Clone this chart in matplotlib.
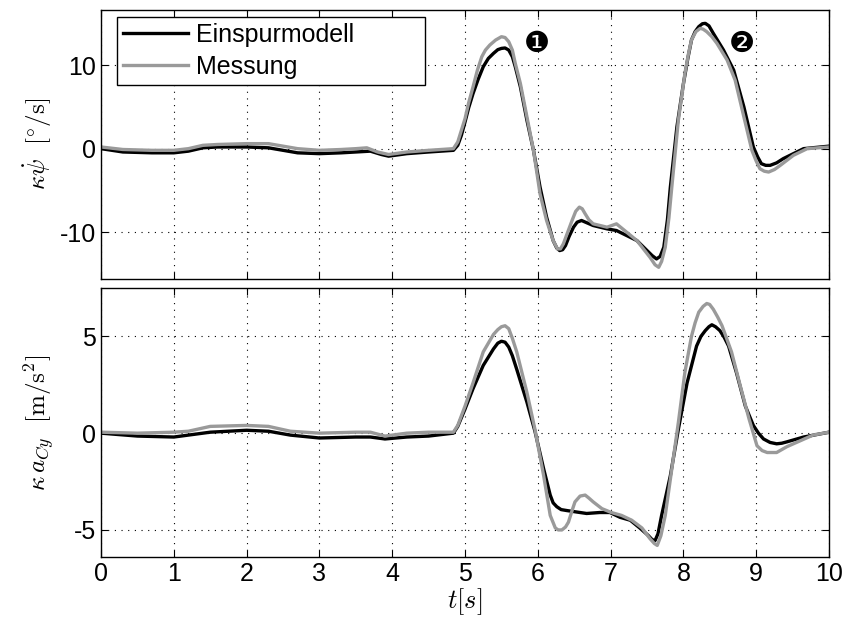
import numpy as np
import matplotlib
matplotlib.use("Agg")
import matplotlib.pyplot as plt

plt.rcParams["font.family"] = ["Liberation Sans", "DejaVu Sans"]
plt.rcParams["mathtext.fontset"] = "cm"
plt.rcParams["axes.unicode_minus"] = False

# yaw rate, single track model (Einspurmodell)
t_psi_model = [0, 0.3, 0.7, 1.0, 1.2, 1.4, 1.6, 2.0, 2.3, 2.5, 2.7, 3.0, 3.3, 3.5, 3.7,
               3.85, 3.95, 4.2, 4.5, 4.84, 4.9, 4.95, 5.0, 5.05, 5.11, 5.18, 5.25, 5.32,
               5.39, 5.45, 5.5, 5.55, 5.6, 5.65, 5.69, 5.76, 5.85, 5.94, 6.03, 6.12,
               6.21, 6.26, 6.3, 6.34, 6.38, 6.43, 6.49, 6.54, 6.6, 6.68, 6.76, 6.95,
               7.08, 7.22, 7.36, 7.5, 7.57, 7.63, 7.68, 7.73, 7.78, 7.82, 7.91, 8.0,
               8.06, 8.11, 8.16, 8.21, 8.26, 8.3, 8.35, 8.41, 8.48, 8.55, 8.69, 8.83,
               8.96, 9.02, 9.07, 9.13, 9.19, 9.28, 9.37, 9.65, 10.0]
psi_model = [0, -0.4, -0.5, -0.5, -0.3, 0.1, 0.2, 0.2, 0.1, -0.2, -0.5, -0.6, -0.5, -0.4,
             -0.3, -0.7, -0.9, -0.6, -0.4, -0.2, 0.4, 1.6, 3.2, 4.9, 6.6, 8.3, 9.8, 10.8,
             11.4, 11.85, 12.0, 12.05, 11.8, 11.0, 9.8, 7.4, 3.4, -0.2, -4.6, -8.2,
             -11.0, -11.9, -12.2, -12.1, -11.6, -10.5, -9.4, -8.8, -8.6, -8.9, -9.2,
             -9.6, -9.8, -10.4, -11.0, -12.2, -12.8, -13.2, -12.9, -11.8, -8.5, -4.6,
             2.6, 7.8, 10.8, 13.0, 14.0, 14.6, 14.95, 15.0, 14.7, 13.8, 12.8, 11.8,
             9.4, 5.0, 0.2, -1.0, -1.8, -2.0, -2.0, -1.7, -1.2, 0.0, 0.3]

# yaw rate, measurement (Messung)
t_psi_meas = [0, 0.3, 0.7, 1.0, 1.2, 1.4, 1.6, 2.0, 2.3, 2.5, 2.7, 3.0, 3.3, 3.5, 3.65,
              3.8, 3.95, 4.2, 4.5, 4.84, 4.9, 4.95, 5.0, 5.05, 5.11, 5.17, 5.23, 5.28,
              5.34, 5.42, 5.5, 5.55, 5.6, 5.65, 5.69, 5.76, 5.85, 5.94, 6.03, 6.12,
              6.21, 6.27, 6.31, 6.35, 6.41, 6.47, 6.52, 6.57, 6.61, 6.65, 6.7, 6.76,
              6.95, 7.08, 7.22, 7.36, 7.54, 7.61, 7.66, 7.7, 7.75, 7.8, 7.84, 7.93,
              8.02, 8.07, 8.11, 8.17, 8.23, 8.27, 8.32, 8.39, 8.46, 8.6, 8.71, 8.83,
              8.94, 9.0, 9.05, 9.11, 9.17, 9.25, 9.33, 9.51, 9.7, 10.0]
psi_meas = [0.2, -0.1, -0.2, -0.2, 0.0, 0.4, 0.5, 0.6, 0.6, 0.3, 0.0, -0.2, -0.1, 0.0,
            0.1, -0.4, -0.7, -0.4, -0.2, 0.0, 0.8, 2.2, 3.6, 5.5, 7.4, 9.4, 11.0, 11.8,
            12.4, 13.0, 13.4, 13.3, 12.8, 11.8, 10.2, 7.8, 3.8, -0.2, -5.4, -8.6,
            -11.0, -12.0, -12.0, -11.4, -10.0, -8.6, -7.5, -7.0, -7.2, -7.8, -8.5,
            -9.0, -9.4, -9.0, -10.0, -11.0, -13.0, -13.9, -14.2, -13.5, -11.8, -8.3,
            -4.6, 3.4, 9.0, 11.4, 13.0, 14.0, 14.4, 14.3, 14.0, 13.4, 12.6, 10.6,
            8.2, 3.8, -0.2, -1.5, -2.4, -2.7, -2.8, -2.5, -2.0, -0.8, 0.0, 0.2]

# lateral acceleration, single track model
t_ay_model = [0, 0.5, 1.0, 1.2, 1.5, 2.0, 2.3, 2.6, 3.0, 3.5, 3.7, 3.9, 4.2, 4.5, 4.84,
              4.9, 4.95, 5.0, 5.11, 5.25, 5.39, 5.45, 5.5, 5.55, 5.6, 5.65, 5.71, 5.85,
              5.96, 6.08, 6.17, 6.21, 6.26, 6.32, 6.4, 6.58, 6.67, 6.85, 6.99, 7.13,
              7.27, 7.4, 7.52, 7.57, 7.61, 7.65, 7.7, 7.82, 7.93, 8.05, 8.18, 8.24,
              8.3, 8.35, 8.39, 8.44, 8.5, 8.56, 8.62, 8.73, 8.85, 8.96, 9.03, 9.1,
              9.19, 9.28, 9.35, 9.42, 9.65, 10.0]
ay_model = [0, -0.15, -0.2, -0.1, 0.05, 0.15, 0.1, -0.1, -0.25, -0.2, -0.2, -0.3, -0.2,
            -0.15, 0.0, 0.35, 0.8, 1.25, 2.3, 3.5, 4.35, 4.65, 4.75, 4.7, 4.45, 4.0,
            3.3, 1.6, 0.1, -1.85, -3.2, -3.6, -3.8, -3.95, -4.0, -4.1, -4.15, -4.1,
            -4.1, -4.35, -4.5, -4.9, -5.3, -5.5, -5.55, -5.2, -4.25, -2.2, 0.2, 2.6,
            4.5, 5.0, 5.3, 5.5, 5.6, 5.5, 5.3, 4.95, 4.5, 3.1, 1.4, 0.4, 0.0, -0.3,
            -0.48, -0.55, -0.52, -0.45, -0.2, 0.05]

# lateral acceleration, measurement
t_ay_meas = [0, 0.5, 1.0, 1.2, 1.5, 2.0, 2.3, 2.6, 3.0, 3.5, 3.7, 3.9, 4.2, 4.5, 4.84,
             4.9, 4.95, 5.0, 5.11, 5.25, 5.39, 5.45, 5.5, 5.55, 5.6, 5.65, 5.71, 5.85,
             5.96, 6.08, 6.17, 6.24, 6.28, 6.33, 6.38, 6.42, 6.47, 6.51, 6.58, 6.65,
             6.7, 6.76, 6.88, 7.01, 7.15, 7.29, 7.43, 7.54, 7.6, 7.64, 7.69, 7.75,
             7.84, 7.93, 8.02, 8.11, 8.16, 8.21, 8.27, 8.32, 8.36, 8.41, 8.47, 8.53,
             8.66, 8.78, 8.9, 9.01, 9.08, 9.15, 9.28, 9.42, 9.6, 9.78, 10.0]
ay_meas = [0.05, 0.0, 0.05, 0.1, 0.35, 0.4, 0.35, 0.1, 0.0, 0.05, 0.05, -0.15, 0.0,
           0.05, 0.05, 0.4, 0.9, 1.4, 2.6, 4.2, 5.1, 5.35, 5.5, 5.55, 5.4, 4.9, 4.2,
           2.1, 0.2, -2.2, -4.25, -4.9, -5.0, -5.0, -4.85, -4.6, -4.0, -3.55, -3.25,
           -3.2, -3.35, -3.55, -3.9, -4.1, -4.25, -4.5, -4.9, -5.45, -5.7, -5.8, -5.3,
           -4.25, -1.85, 0.55, 3.15, 5.0, 5.7, 6.25, 6.55, 6.7, 6.65, 6.4, 6.0, 5.55,
           4.2, 2.45, 0.75, -0.65, -0.9, -1.0, -1.0, -0.7, -0.4, -0.1, 0.05]

grey = "#9a9a9a"
lw = 2.4

fig = plt.figure(figsize=(8.44, 6.23), dpi=100)
ax1 = fig.add_axes([0.1197, 0.5522, 0.8626, 0.4318])
ax2 = fig.add_axes([0.1197, 0.1059, 0.8626, 0.4318])

ax1.plot(t_psi_model, psi_model, color="black", lw=lw, label="Einspurmodell",
         solid_joinstyle="round")
ax1.plot(t_psi_meas, psi_meas, color=grey, lw=lw, label="Messung",
         solid_joinstyle="round")
ax2.plot(t_ay_model, ay_model, color="black", lw=lw, solid_joinstyle="round")
ax2.plot(t_ay_meas, ay_meas, color=grey, lw=lw, solid_joinstyle="round")

ax1.set_ylim(-15.6, 16.6)
ax1.set_yticks([-10, 0, 10])
ax2.set_ylim(-6.4, 7.5)
ax2.set_yticks([-5, 0, 5])

for ax in (ax1, ax2):
    ax.set_xlim(0, 10)
    ax.set_xticks(range(0, 11))
    ax.grid(True, color="black", linestyle=(0, (1, 5)), linewidth=0.8)
    ax.tick_params(direction="in", top=True, right=True, length=5,
                   labelsize=18, width=0.8)
    for s in ax.spines.values():
        s.set_linewidth(1.0)

ax1.tick_params(labelbottom=False)

ax1.set_ylabel(r"$\kappa\dot{\psi}\ \ [^{\circ}/\mathrm{s}]$", fontsize=18, labelpad=4)
ax2.set_ylabel(r"$\kappa\, a_{Cy}\ \ [\mathrm{m}/\mathrm{s}^2]$", fontsize=18, labelpad=12)
ax2.set_xlabel(r"$t[s]$", fontsize=19, labelpad=0)

ax1.text(5.99, 12.5, "\u2776", fontsize=21, ha="center", va="center",
         family=["DejaVu Sans"])
ax1.text(8.8, 12.5, "\u2777", fontsize=21, ha="center", va="center",
         family=["DejaVu Sans"])

leg = ax1.legend(loc="upper left", bbox_to_anchor=(0.022, 0.0, 0.423, 0.974),
                 mode="expand", borderaxespad=0, fontsize=18, fancybox=False,
                 framealpha=1, edgecolor="black", handlelength=2.6, borderpad=0.25,
                 labelspacing=0.3, handletextpad=0.3)
leg.get_frame().set_linewidth(1.0)

fig.savefig("out.png", dpi=100)
